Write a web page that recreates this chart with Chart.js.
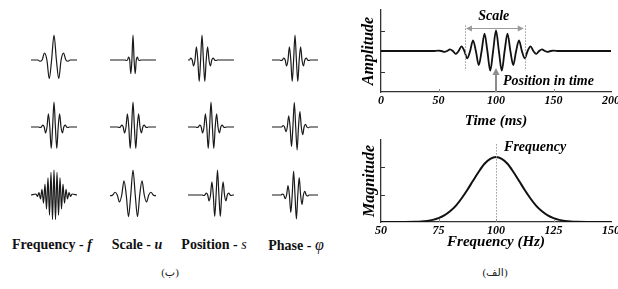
<!DOCTYPE html>
<html>
<head>
<meta charset="utf-8">
<script src="https://cdn.jsdelivr.net/npm/chart.js@4.4.1/dist/chart.umd.min.js"></script>
<style>
  body { margin: 0; width: 618px; height: 289px; position: relative; overflow: hidden; background: #fff;
         font-family: "Liberation Serif", "Times New Roman", serif; }
  canvas { position: absolute; }
  .lbl { position: absolute; font-weight: bold; font-size: 14px; white-space: nowrap; transform: translate(-50%, -50%); color: #111; }
  .lbl i { font-style: italic; }
  .cap { position: absolute; font-size: 11px; white-space: nowrap; transform: translate(-50%, -50%); color: #222;
         font-family: "Liberation Serif", "DejaVu Sans", serif; }
</style>
</head>
<body>
<canvas id="time" width="263" height="130" style="left:355px;top:0px"></canvas>
<canvas id="freq" width="263" height="125" style="left:355px;top:130px"></canvas>

<div class="lbl" style="left:52px;top:245px">Frequency - <i>f</i></div>
<div class="lbl" style="left:137px;top:245px">Scale - <i>u</i></div>
<div class="lbl" style="left:214px;top:245px">Position - <i style="font-weight:normal">s</i></div>
<div class="lbl" style="left:296px;top:245px">Phase - <i style="font-weight:normal;font-size:16px">φ</i></div>
<div class="cap" style="left:170px;top:272px">(ب)</div>
<div class="cap" style="left:495px;top:272px">(الف)</div>

<script>
// ---- right panel: wavelet in time (ms) ----
var timeMs = [0, 45, 50, 52.5, 55, 57.5, 60, 62.5, 65, 67.5, 70, 72.5, 75, 77.5, 80, 82.5, 85, 87.5, 90, 92.5, 95, 97.5,
  100, 102.5, 105, 107.5, 110, 112.5, 115, 117.5, 120, 122.5, 125, 127.5, 130, 132.5, 135, 137.5, 140, 142.5, 145, 147.5, 150, 155, 200];
var amplitude = [0, 0, 0.02, 0, -0.04, 0, 0.08, 0, -0.14, 0, 0.23, 0, -0.36, 0, 0.52, 0, -0.69, 0, 0.85, 0, -0.96, 0,
  1, 0, -0.96, 0, 0.85, 0, -0.69, 0, 0.52, 0, -0.36, 0, 0.23, 0, -0.14, 0, 0.08, 0, -0.04, 0, 0.02, 0, 0];
var timeTicks = [0, 50, 100, 150, 200];

// ---- right panel: spectrum (Hz) ----
var freqHz = [50, 60, 65, 67.5, 70, 72.5, 75, 77.5, 80, 82.5, 85, 87.5, 90, 92.5, 95, 97.5, 100,
  102.5, 105, 107.5, 110, 112.5, 115, 117.5, 120, 122.5, 125, 127.5, 130, 132.5, 135, 140, 150];
var magnitude = [0, 0.003, 0.01, 0.02, 0.04, 0.077, 0.14, 0.24, 0.39, 0.59, 0.86, 1.17, 1.51, 1.84, 2.13, 2.31, 2.38,
  2.31, 2.13, 1.84, 1.51, 1.17, 0.86, 0.59, 0.39, 0.24, 0.14, 0.077, 0.04, 0.02, 0.01, 0.003, 0];
var freqTicks = [50, 75, 100, 125, 150];

// ---- left panel: small atoms (x = offset from cell centre, y = amplitude) ----
var lowFreqX = [-23, -16, -14.2, -11.9, -9.5, -7.1, -4.75, -2.4, 0, 2.4, 4.75, 7.1, 9.5, 11.9, 14.2, 16, 23];
var lowFreqY = [0, 0, -0.05, 0, 0.28, 0, -0.75, 0, 1, 0, -0.75, 0, 0.28, 0, -0.05, 0, 0];

var refX = [-23, -15.4, -14, -12.6, -11.2, -9.8, -8.4, -7, -5.6, -4.2, -2.8, -1.4, 0, 1.4, 2.8, 4.2, 5.6, 7, 8.4, 9.8, 11.2, 12.6, 14, 15.4, 23];
var refY = [0, 0, -0.02, 0, 0.08, 0, -0.24, 0, 0.53, 0, -0.86, 0, 1, 0, -0.86, 0, 0.53, 0, -0.24, 0, 0.08, 0, -0.02, 0, 0];

var highFreqX = [-23, -18, -16.5, -15, -13.5, -12, -10.5, -9, -7.5, -6, -4.5, -3, -1.5, 0, 1.5, 3, 4.5, 6, 7.5, 9, 10.5, 12, 13.5, 15, 16.5, 18, 23];
var highFreqY = [0, 0.04, -0.06, 0.1, -0.16, 0.23, -0.33, 0.44, -0.56, 0.69, -0.81, 0.91, -0.98, 1, -0.98, 0.91, -0.81, 0.69, -0.56, 0.44, -0.33, 0.23, -0.16, 0.1, -0.06, 0.04, 0];

var narrowX = [-23, -7.7, -6.6, -5.5, -4.4, -3.3, -2.2, -1.1, 0, 1.1, 2.2, 3.3, 4.4, 5.5, 6.6, 7.7, 23];
var narrowY = [0, 0, -0.02, 0, 0.12, 0, -0.55, 0, 1, 0, -0.55, 0, 0.12, 0, -0.02, 0, 0];

var wideX = [-23, -22.5, -20.25, -18, -15.75, -13.5, -11.25, -9, -6.75, -4.5, -2.25, 0, 2.25, 4.5, 6.75, 9, 11.25, 13.5, 15.75, 18, 20.25, 22.5, 23];
var wideY = [0, -0.03, 0, 0.11, 0, -0.28, 0, 0.57, 0, -0.87, 0, 1, 0, -0.87, 0, 0.57, 0, -0.28, 0, 0.11, 0, -0.03, 0];

var leftPosX = [-23, -21.6, -20.2, -18.8, -17.4, -16, -14.6, -13.2, -11.8, -10.4, -9, -7.6, -6.2, -4.8, -3.4, -2, -0.6, 0.8, 2.2, 3.6, 5, 6.4, 23];
var leftPosY = [0, 0, 0.08, 0, -0.24, 0, 0.53, 0, -0.86, 0, 1, 0, -0.86, 0, 0.53, 0, -0.24, 0, 0.08, 0, -0.02, 0, 0];

var rightPosX = [-23, -8.9, -7.5, -6.1, -4.7, -3.3, -1.9, -0.5, 0.9, 2.3, 3.7, 5.1, 6.5, 7.9, 9.3, 10.7, 12.1, 13.5, 14.9, 16.3, 17.7, 19.1, 20.5, 21.9, 23];
var rightPosY = [0, 0, -0.02, 0, 0.08, 0, -0.24, 0, 0.53, 0, -0.86, 0, 1, 0, -0.86, 0, 0.53, 0, -0.24, 0, 0.08, 0, -0.02, 0, 0];

var quarterPhaseX = [-23, -13.3, -11.9, -10.5, -9.1, -7.7, -6.3, -4.9, -3.5, -2.1, -0.7, 0.7, 2.1, 3.5, 4.9, 6.3, 7.7, 9.1, 10.5, 11.9, 13.3, 14.7, 23];
var quarterPhaseY = [0, 0, 0.06, 0, -0.19, 0, 0.45, 0, -0.78, 0, 0.99, 0, -0.92, 0, 0.62, 0, -0.31, 0, 0.11, 0, -0.03, 0, 0];

var sinePhaseX = [-23, -14, -12.6, -11.2, -9.8, -8.4, -7, -5.6, -4.2, -2.8, -1.4, 0, 1.4, 2.8, 4.2, 5.6, 7, 8.4, 9.8, 11.2, 12.6, 14, 23];
var sinePhaseY = [0, 0, 0.04, 0, -0.15, 0, 0.38, 0, -0.7, 0, 0.96, 0, -0.96, 0, 0.7, 0, -0.38, 0, 0.15, 0, -0.04, 0, 0];

var serif = '"Liberation Serif", "Times New Roman", serif';
var boldItalic = function (size) { return { family: serif, size: size, style: 'italic', weight: 'bold' }; };

function points(xs, ys) {
  return xs.map(function (x, i) { return { x: x, y: ys[i] }; });
}

// small atom cell
function atom(cx, baseY, xs, ys) {
  var c = document.createElement('canvas');
  c.width = 46; c.height = 56;
  c.style.left = (cx - 23) + 'px';
  c.style.top = (baseY - 28) + 'px';
  document.body.appendChild(c);
  new Chart(c, {
    type: 'line',
    data: { datasets: [{ data: points(xs, ys), borderColor: '#1a1a1a', borderWidth: 1.2,
      pointRadius: 0, cubicInterpolationMode: 'monotone' }] },
    options: {
      responsive: false, animation: false, events: [],
      layout: { padding: 0 },
      plugins: { legend: { display: false }, tooltip: { enabled: false } },
      scales: {
        x: { type: 'linear', min: -23, max: 23, display: false },
        y: { min: -1.12, max: 1.12, display: false }
      }
    }
  });
}

var cols = [54, 133, 211, 295];
var rows = [60, 127, 195];
atom(cols[0], rows[0], lowFreqX, lowFreqY);
atom(cols[1], rows[0], narrowX, narrowY);
atom(cols[2], rows[0], leftPosX, leftPosY);
atom(cols[3], rows[0], refX, refY);
atom(cols[0], rows[1], refX, refY);
atom(cols[1], rows[1], refX, refY);
atom(cols[2], rows[1], refX, refY);
atom(cols[3], rows[1], quarterPhaseX, quarterPhaseY);
atom(cols[0], rows[2], highFreqX, highFreqY);
atom(cols[1], rows[2], wideX, wideY);
atom(cols[2], rows[2], rightPosX, rightPosY);
atom(cols[3], rows[2], sinePhaseX, sinePhaseY);

// inward tick marks on both axes
function innerTicks(yValues, xValues) {
  return {
    id: 'innerTicks',
    afterDraw: function (chart) {
      var ctx = chart.ctx, a = chart.chartArea, sx = chart.scales.x, sy = chart.scales.y;
      ctx.save();
      ctx.strokeStyle = '#333';
      ctx.lineWidth = 1;
      yValues.forEach(function (v) {
        var p = Math.round(sy.getPixelForValue(v)) + 0.5;
        ctx.beginPath(); ctx.moveTo(a.left, p); ctx.lineTo(a.left + 4, p); ctx.stroke();
      });
      ctx.strokeStyle = '#888';
      xValues.forEach(function (v) {
        var p = Math.round(sx.getPixelForValue(v)) + 0.5;
        ctx.beginPath(); ctx.moveTo(p, a.bottom); ctx.lineTo(p, a.bottom - 3); ctx.stroke();
      });
      ctx.restore();
    }
  };
}

function head(ctx, x, y, dx, dy, len, half) {
  // arrow tip at (x,y) pointing along (dx,dy)
  ctx.beginPath();
  ctx.moveTo(x, y);
  ctx.lineTo(x - dx * len - dy * half, y - dy * len + dx * half);
  ctx.lineTo(x - dx * len + dy * half, y - dy * len - dx * half);
  ctx.closePath();
  ctx.fill();
}

var timeMarks = {
  id: 'timeMarks',
  afterDatasetsDraw: function (chart) {
    var ctx = chart.ctx, sx = chart.scales.x, sy = chart.scales.y;
    var xl = sx.getPixelForValue(73), xr = sx.getPixelForValue(125), xc = sx.getPixelForValue(100);
    ctx.save();
    ctx.strokeStyle = '#9a9a9a';
    ctx.fillStyle = '#9a9a9a';
    ctx.lineWidth = 1;
    ctx.setLineDash([1.5, 1.5]);
    [xl, xr].forEach(function (px) {
      ctx.beginPath();
      ctx.moveTo(Math.round(px) + 0.5, sy.getPixelForValue(1.25));
      ctx.lineTo(Math.round(px) + 0.5, sy.getPixelForValue(-0.95));
      ctx.stroke();
    });
    ctx.setLineDash([]);
    var ya = Math.round(sy.getPixelForValue(1.12)) + 0.5;
    ctx.lineWidth = 1.2;
    ctx.beginPath(); ctx.moveTo(xl + 4, ya); ctx.lineTo(xr - 4, ya); ctx.stroke();
    head(ctx, xl + 1, ya, -1, 0, 6, 3);
    head(ctx, xr - 1, ya, 1, 0, 6, 3);
    // position arrow
    ctx.strokeStyle = '#8c8c8c';
    ctx.fillStyle = '#8c8c8c';
    ctx.lineWidth = 2;
    var tip = sy.getPixelForValue(-0.83);
    ctx.beginPath(); ctx.moveTo(xc, sy.getPixelForValue(-2)); ctx.lineTo(xc, tip + 5); ctx.stroke();
    head(ctx, xc, tip, 0, -1, 7, 3.5);
    // labels
    ctx.fillStyle = '#000';
    ctx.font = 'italic bold 14px ' + serif;
    ctx.textBaseline = 'middle';
    ctx.textAlign = 'center';
    ctx.fillText('Scale', sx.getPixelForValue(98), sy.getPixelForValue(1.68));
    ctx.textAlign = 'left';
    ctx.fillText('Position in time', sx.getPixelForValue(106), sy.getPixelForValue(-1.46));
    ctx.restore();
  }
};

var freqMarks = {
  id: 'freqMarks',
  afterDatasetsDraw: function (chart) {
    var ctx = chart.ctx, sx = chart.scales.x, sy = chart.scales.y;
    var xc = Math.round(sx.getPixelForValue(100)) + 0.5;
    ctx.save();
    ctx.strokeStyle = '#9a9a9a';
    ctx.lineWidth = 1;
    ctx.setLineDash([1.5, 1.5]);
    ctx.beginPath(); ctx.moveTo(xc, sy.getPixelForValue(2.85)); ctx.lineTo(xc, sy.getPixelForValue(0)); ctx.stroke();
    ctx.setLineDash([]);
    ctx.fillStyle = '#000';
    ctx.font = 'italic bold 14px ' + serif;
    ctx.textBaseline = 'middle';
    ctx.textAlign = 'left';
    ctx.fillText('Frequency', sx.getPixelForValue(103.5), sy.getPixelForValue(2.72));
    ctx.restore();
  }
};

function panel(id, xs, ys, xMin, xMax, ticks, yMin, yMax, xTitle, yTitle, xHeight, titleBottom, yTitlePad, lineW, yTickVals, marks) {
  new Chart(document.getElementById(id), {
    type: 'line',
    data: { datasets: [{ data: points(xs, ys), borderColor: '#111', borderWidth: lineW,
      pointRadius: 0, cubicInterpolationMode: 'monotone' }] },
    options: {
      responsive: false, animation: false, events: [],
      layout: { padding: { left: 0, right: 7, top: 10, bottom: 0 } },
      plugins: { legend: { display: false }, tooltip: { enabled: false } },
      scales: {
        x: {
          type: 'linear', min: xMin, max: xMax,
          afterBuildTicks: function (s) { s.ticks = ticks.map(function (v) { return { value: v }; }); },
          grid: { display: false, drawTicks: false },
          border: { display: true, color: '#333', width: 1.3 },
          ticks: { padding: 2, color: '#000', font: boldItalic(12), maxRotation: 0, autoSkip: false },
          title: { display: true, text: xTitle, color: '#000', font: boldItalic(15), padding: { top: 0, bottom: titleBottom } },
          afterFit: function (s) { s.height = xHeight; s.paddingLeft = 0; s.paddingRight = 0; }
        },
        y: {
          min: yMin, max: yMax,
          ticks: { display: false },
          grid: { display: false, drawTicks: false },
          border: { display: true, color: '#333', width: 1.3 },
          title: { display: true, text: yTitle, color: '#000', font: boldItalic(16), padding: { top: yTitlePad, bottom: 0 } },
          afterFit: function (s) { s.width = 26; s.paddingTop = 0; s.paddingBottom = 0; }
        }
      }
    },
    plugins: [innerTicks(yTickVals, ticks.slice(1, -1)), marks]
  });
}

panel('time', timeMs, amplitude, 0, 200, timeTicks, -2, 2, 'Time (ms)', 'Amplitude', 38, 0, 4, 1.8, [-1, 1], timeMarks);
panel('freq', freqHz, magnitude, 50, 150, freqTicks, 0, 3, 'Frequency (Hz)', 'Magnitude', 33, 4, 5, 2, [1, 2], freqMarks);
</script>
</body>
</html>
